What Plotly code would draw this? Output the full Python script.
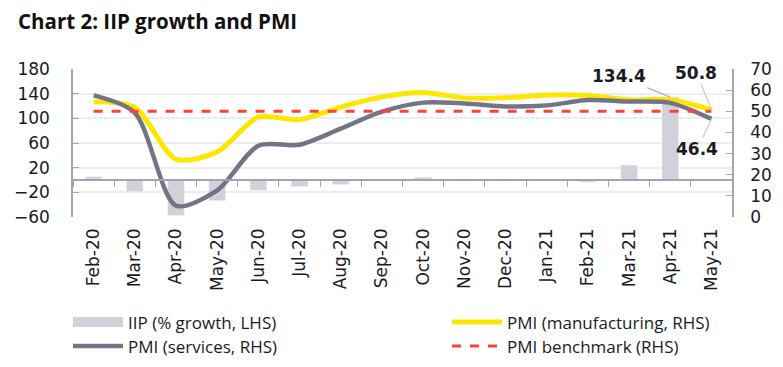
import plotly.graph_objects as go

months = ["Feb-20", "Mar-20", "Apr-20", "May-20", "Jun-20", "Jul-20", "Aug-20", "Sep-20",
          "Oct-20", "Nov-20", "Dec-20", "Jan-21", "Feb-21", "Mar-21", "Apr-21", "May-21"]
iip_growth = [5.2, -18.7, -57.3, -33.4, -16.6, -10.5, -7.1, 0.5, 4.2, -1.6, 1.6, -0.9, -3.4, 24.1, 134.4, None]
pmi_manufacturing = [54.5, 51.8, 27.4, 30.8, 47.2, 46.0, 52.0, 56.8, 58.9, 56.3, 56.4, 57.7, 57.5, 55.4, 55.5, 50.8]
pmi_services = [57.5, 49.3, 5.4, 12.6, 33.7, 34.2, 41.8, 49.8, 54.1, 53.7, 52.3, 52.8, 55.3, 54.6, 54.0, 46.4]
pmi_benchmark = [50] * 16

left_ticks = [-60, -20, 20, 60, 100, 140, 180]
right_ticks = [0, 10, 20, 30, 40, 50, 60, 70]

# page has an 8px default body margin, so the figure is 8px smaller than the window
W, H = 775, 359

BAR = "#d1d1db"
GRAY = "#747487"
YELLOW = "#ffe600"
RED = "#ff4136"
AXIS = "#a3a3b5"
GRID = "#ececf1"
TICKFONT = dict(family="DejaVu Sans", size=17, color="#1a1a24")
LEGFONT = dict(family="Open Sans", size=17, color="#1a1a24")

fig = go.Figure()
fig.add_trace(go.Bar(x=months, y=iip_growth, name="IIP (% growth, LHS)",
                     marker_color=BAR, xaxis="x", yaxis="y", showlegend=False))
fig.add_trace(go.Scatter(x=months, y=pmi_manufacturing, name="PMI (manufacturing, RHS)",
                         mode="lines", line=dict(color=YELLOW, width=5, shape="spline", smoothing=0.8),
                         xaxis="x", yaxis="y2", legend="legend2"))
fig.add_trace(go.Scatter(x=months, y=pmi_services, name="PMI (services, RHS)",
                         mode="lines", line=dict(color=GRAY, width=4.5, shape="spline", smoothing=0.8),
                         xaxis="x", yaxis="y2", legend="legend3"))
fig.add_trace(go.Scatter(x=months, y=pmi_benchmark, name="PMI benchmark (RHS)",
                         mode="lines", line=dict(color=RED, width=3, dash="dash"),
                         xaxis="x", yaxis="y2", legend="legend4"))
# legend-only entry giving the bar series a wide swatch like the reference
fig.add_trace(go.Scatter(x=[None], y=[None], name="IIP (% growth, LHS)", mode="lines",
                         line=dict(color=BAR, width=10), xaxis="x", yaxis="y",
                         legend="legend", hoverinfo="skip"))
# invisible helper trace for the zero-line axis with boundary ticks
fig.add_trace(go.Scatter(x=months, y=[None] * len(months), showlegend=False, hoverinfo="skip",
                         xaxis="x2", yaxis="y"))


def leg(xpx, ytop):
    return dict(orientation="v", x=xpx / W, xref="container", xanchor="left",
                y=ytop, yref="container", yanchor="top", font=LEGFONT,
                tracegroupgap=0, itemwidth=50, bgcolor="rgba(0,0,0,0)")


ROW1, ROW2 = 0.174, 0.1072

fig.update_layout(
    width=W, height=H,
    margin=dict(l=65, r=51, t=61, b=150, autoexpand=False),
    paper_bgcolor="white", plot_bgcolor="white",
    title=dict(text="<b>Chart 2: IIP growth and PMI</b>", x=10 / W, xref="container", xanchor="left",
               y=0.961, yref="container", yanchor="middle",
               font=dict(family="Open Sans", size=20.5, color="#111111")),
    bargap=0.6,
    showlegend=True,
    legend=leg(60, ROW1),
    legend2=leg(439, ROW1),
    legend3=leg(60, ROW2),
    legend4=leg(439, ROW2),
    xaxis=dict(type="category", categoryorder="array", categoryarray=months,
               range=[-0.5, 15.5], showline=False, ticks="", tickangle=-90, automargin=False,
               tickfont=TICKFONT, showgrid=False, ticklabelstandoff=7),
    xaxis2=dict(type="category", categoryorder="array", categoryarray=months,
                range=[-0.5, 15.5], overlaying="x", anchor="free", position=0.25, side="bottom",
                showline=True, linecolor=AXIS, linewidth=1.5, ticks="outside", ticklen=6,
                tickcolor=AXIS, tickson="boundaries", showticklabels=False, showgrid=False,
                automargin=False),
    yaxis=dict(range=[-60, 180], tickvals=left_ticks, ticks="inside", ticklen=6, tickcolor=AXIS,
               showline=True, linecolor=AXIS, linewidth=1.5, gridcolor=GRID, gridwidth=1.5,
               zeroline=False, tickfont=TICKFONT, ticklabelstandoff=18, automargin=False),
    yaxis2=dict(range=[0, 70], tickvals=right_ticks, overlaying="y", side="right", ticks="inside",
                ticklen=6, tickcolor=AXIS, showline=True, linecolor=AXIS, linewidth=1.5,
                showgrid=False, zeroline=False, tickfont=TICKFONT, ticklabelstandoff=13,
                automargin=False),
)

ann_font = dict(family="DejaVu Sans", size=17, color="#1a1a24")
fig.add_annotation(x=months[14], y=iip_growth[14], xref="x", yref="y", text="<b>134.4</b>",
                   showarrow=True, arrowhead=0, arrowwidth=1.2, arrowcolor="#b0b0bf",
                   ax=-51, ay=-21, font=ann_font)
fig.add_annotation(x=months[15], y=pmi_manufacturing[15], xref="x", yref="y2", text="<b>50.8</b>",
                   showarrow=True, arrowhead=0, arrowwidth=1.2, arrowcolor="#c8c8d3",
                   ax=-15, ay=-37, font=ann_font)
fig.add_annotation(x=months[15], y=pmi_services[15], xref="x", yref="y2", text="<b>46.4</b>",
                   showarrow=True, arrowhead=0, arrowwidth=1.2, arrowcolor="#c8c8d3",
                   ax=-14, ay=30, font=ann_font)

fig.write_html("out.html")
